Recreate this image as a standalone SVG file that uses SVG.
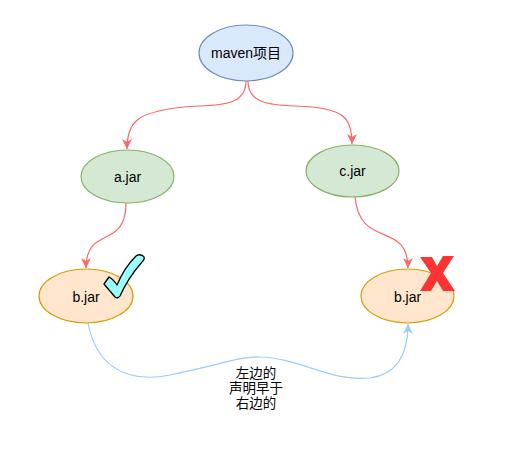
<svg xmlns="http://www.w3.org/2000/svg" width="511" height="461" viewBox="0 0 511 461">
<style>
.lbl{font-family:"Liberation Sans",Arial,"Noto Sans CJK SC",sans-serif;font-size:14px;fill:#000;text-anchor:middle;dominant-baseline:central}
.el{font-family:"Liberation Sans",Arial,"Noto Sans CJK SC",sans-serif;font-size:13.5px;fill:#000;text-anchor:middle}
.red{fill:none;stroke:#ff6666;stroke-width:1.2}
.blue{fill:none;stroke:#99ccff;stroke-width:1.2}
.b{fill:#dae8fc;stroke:#6c8ebf;stroke-width:1.2}
.g{fill:#d5e8d4;stroke:#82b366;stroke-width:1.2}
.o{fill:#ffe6cc;stroke:#d79b00;stroke-width:1.2}
</style>
<defs>
<marker id="ar" viewBox="0 0 10 10" refX="10" refY="5" markerWidth="10" markerHeight="10" markerUnits="userSpaceOnUse" orient="auto">
<path d="M0,0 L10,5 L0,10 L3,5 Z" fill="#ff6666"/>
</marker>
<marker id="ab" viewBox="0 0 10 10" refX="10" refY="5" markerWidth="10" markerHeight="10" markerUnits="userSpaceOnUse" orient="auto">
<path d="M0,0 L10,5 L0,10 L3,5 Z" fill="#99ccff"/>
</marker>
</defs>
<rect width="511" height="461" fill="#fff"/>
<g id="connectors">
<path class="red" d="M246,81 C246,112 205,103 175,108 C140,113 127,120 127,149" marker-end="url(#ar)"/>
<path class="red" d="M248,81 C248,112 290,103 320,108 C345,112 352,120 352,144" marker-end="url(#ar)"/>
<path class="red" d="M126,203 C126,250 86,225 86,268" marker-end="url(#ar)"/>
<path class="red" d="M355,197 C360,250 408,220 408,268" marker-end="url(#ar)"/>
<path class="blue" d="M88,323 C95,360 120,385 170,375 C220,365 240,356 260,357 C300,358 330,382 370,378 C400,374 408,350 408,324" marker-end="url(#ab)"/>
<g id="edge-label">
<rect x="228" y="365" width="57" height="47" fill="#fff"/>
<text class="el" x="256" y="378">左边的</text>
<text class="el" x="256" y="393">声明早于</text>
<text class="el" x="256" y="408">右边的</text>
</g>
</g>
<g id="maven">
<ellipse class="b" cx="246" cy="53" rx="47" ry="28"/>
<text class="lbl" x="246" y="53">maven项目</text>
</g>
<g id="a-jar">
<ellipse class="g" cx="127.5" cy="176.5" rx="46.5" ry="26.5"/>
<text class="lbl" x="127.5" y="177">a.jar</text>
</g>
<g id="c-jar">
<ellipse class="g" cx="352.5" cy="171" rx="46.5" ry="26"/>
<text class="lbl" x="352.5" y="171">c.jar</text>
</g>
<g id="b-jar-left">
<ellipse class="o" cx="86" cy="296" rx="47" ry="27"/>
<text class="lbl" x="86" y="297">b.jar</text>
</g>
<g id="b-jar-right">
<ellipse class="o" cx="407.5" cy="296" rx="46.5" ry="27"/>
<text class="lbl" x="407.5" y="297">b.jar</text>
</g>
<g id="check">
<path d="M104,284 L109,277 Q113,279 117,285 Q124,268 136,256 Q141,253 144,257 Q145,259 142,262 Q128,278 120,296 Q118,299 115,297 Z" fill="#99ffff" stroke="#000" stroke-width="1.3" stroke-linejoin="round"/>
</g>
<g id="cross">
<polygon points="420,257 432,257 437,266 443,256 454,256 443,273 455,291 443,291 437,281 431,291 420,291 431,273" fill="#ff3333"/>
</g>
</svg>
